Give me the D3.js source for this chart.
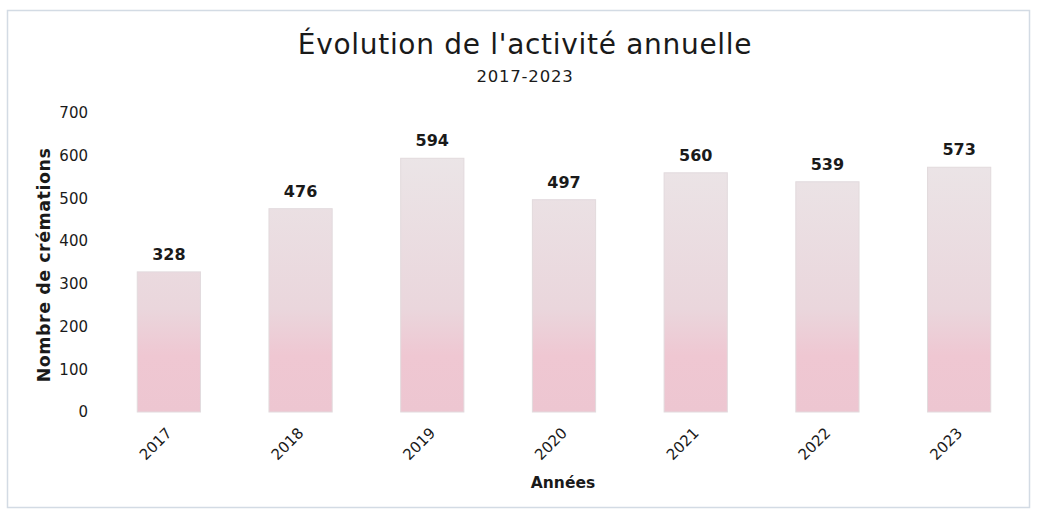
<!DOCTYPE html>
<html>
<head>
<meta charset="utf-8">
<script src="https://cdn.jsdelivr.net/npm/d3@7"></script>
<style>
	body { margin: 0; background: #fff; }
	text { fill: #1a1a1a; }
</style>
</head>
<body>
<div id="chart"></div>
<script>
const years = ["2017", "2018", "2019", "2020", "2021", "2022", "2023"];
const cremations = [328, 476, 594, 497, 560, 539, 573];
const yTicks = [0, 100, 200, 300, 400, 500, 600, 700];

const width = 1037;
const height = 511;

const svg = d3
	.select("#chart")
	.append("svg")
	.attr("width", width)
	.attr("height", height);

// light frame around the chart
svg
	.append("rect")
	.attr("x", 7.5)
	.attr("y", 10.5)
	.attr("width", 1022)
	.attr("height", 497)
	.attr("fill", "none")
	.attr("stroke", "#d3dbe4")
	.attr("stroke-width", 1.5);

const x = d3
	.scaleBand()
	.domain(years)
	.range([103, 1025])
	.paddingInner(0.52)
	.paddingOuter(0.26);

const y = d3.scaleLinear().domain([0, 700]).range([412, 113]);

// pink at the bottom fading to pale grey
const grad = svg
	.append("defs")
	.append("linearGradient")
	.attr("id", "barFill")
	.attr("gradientUnits", "userSpaceOnUse")
	.attr("x1", 0)
	.attr("x2", 0)
	.attr("y1", y(0))
	.attr("y2", y(600));
grad.append("stop").attr("offset", "0").attr("stop-color", "#edc6d1");
grad.append("stop").attr("offset", "0.22").attr("stop-color", "#efc7d2");
grad.append("stop").attr("offset", "0.4").attr("stop-color", "#ead6dc");
grad.append("stop").attr("offset", "1").attr("stop-color", "#ebe5e7");

svg
	.append("g")
	.selectAll("rect")
	.data(years)
	.join("rect")
	.attr("x", (d) => x(d))
	.attr("y", (d, i) => y(cremations[i]))
	.attr("width", x.bandwidth())
	.attr("height", (d, i) => y(0) - y(cremations[i]))
	.attr("fill", "url(#barFill)")
	.attr("stroke", "#e2dadd")
	.attr("stroke-width", 1);

// value labels
svg
	.append("g")
	.selectAll("text")
	.data(years)
	.join("text")
	.attr("x", (d) => x(d) + x.bandwidth() / 2)
	.attr("y", (d, i) => y(cremations[i]) - 12)
	.attr("text-anchor", "middle")
	.attr("font-family", "DejaVu Sans, sans-serif")
	.attr("font-weight", "bold")
	.attr("font-size", 16)
	.text((d, i) => cremations[i]);

// y axis, labels only
const yAxis = svg
	.append("g")
	.attr("transform", "translate(88,0)")
	.call(d3.axisLeft(y).tickValues(yTicks).tickSize(0).tickPadding(0));
yAxis.select(".domain").remove();
yAxis
	.selectAll("text")
	.attr("font-family", "DejaVu Sans, sans-serif")
	.attr("font-size", 15)
	.attr("fill", "#222");

// x axis, rotated labels
const xAxis = svg
	.append("g")
	.attr("transform", `translate(0,${y(0)})`)
	.call(d3.axisBottom(x).tickSize(0).tickPadding(0));
xAxis.select(".domain").remove();
xAxis
	.selectAll("text")
	.attr("font-family", "DejaVu Sans, sans-serif")
	.attr("font-size", 15)
	.attr("fill", "#222")
	.attr("text-anchor", "end")
	.attr("dy", null)
	.attr("transform", "translate(4,22) rotate(-45)");

// titles
svg
	.append("text")
	.attr("x", 525)
	.attr("y", 54)
	.attr("text-anchor", "middle")
	.attr("font-family", "DejaVu Sans, sans-serif")
	.attr("font-size", 28)
	.attr("letter-spacing", 0.7)
	.text("Évolution de l'activité annuelle");

svg
	.append("text")
	.attr("x", 525)
	.attr("y", 82)
	.attr("text-anchor", "middle")
	.attr("font-family", "DejaVu Sans, sans-serif")
	.attr("font-size", 16.5)
	.attr("letter-spacing", 0.8)
	.text("2017-2023");

svg
	.append("text")
	.attr("transform", "translate(50,265) rotate(-90)")
	.attr("text-anchor", "middle")
	.attr("font-family", "DejaVu Sans, sans-serif")
	.attr("font-weight", "bold")
	.attr("font-size", 17.5)
	.attr("letter-spacing", 0.5)
	.text("Nombre de crémations");

svg
	.append("text")
	.attr("x", 563)
	.attr("y", 488)
	.attr("text-anchor", "middle")
	.attr("font-family", "DejaVu Sans, sans-serif")
	.attr("font-weight", "bold")
	.attr("font-size", 15.5)
	.text("Années");
</script>
</body>
</html>
